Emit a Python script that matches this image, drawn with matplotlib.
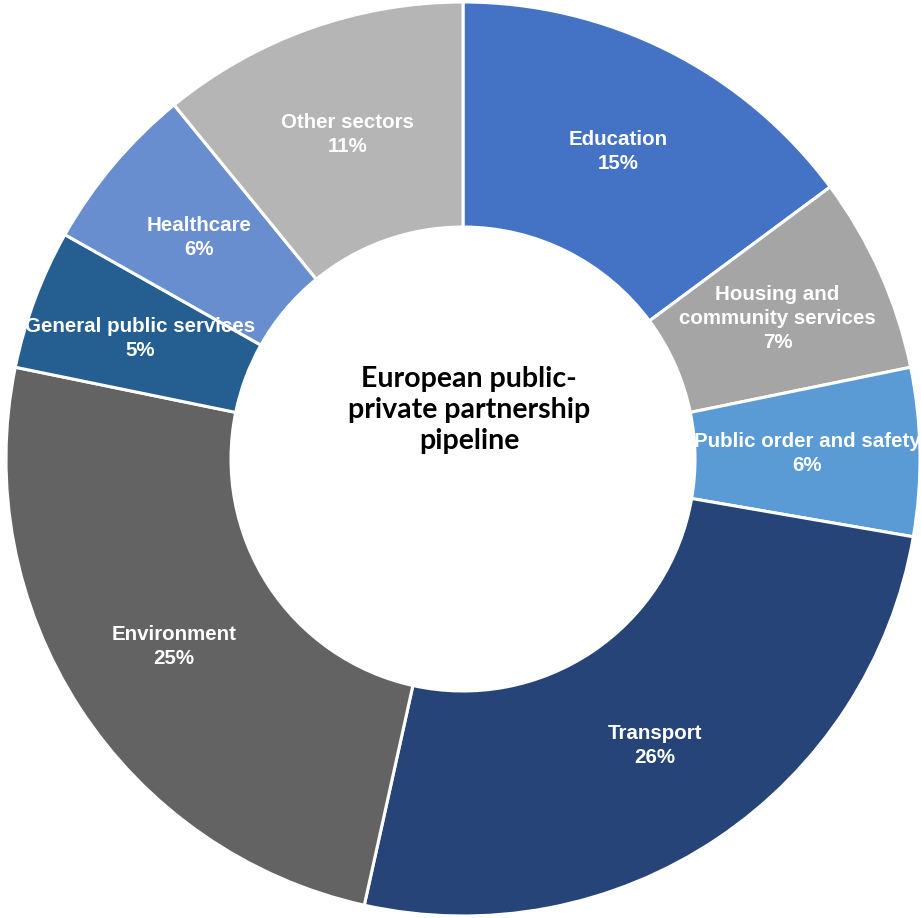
import matplotlib
matplotlib.use("Agg")
import matplotlib.pyplot as plt
import numpy as np

categories = ["Education", "Housing and\ncommunity services", "Public order and safety",
              "Transport", "Environment", "General public services", "Healthcare", "Other sectors"]
values = [15, 7, 6, 26, 25, 5, 6, 11]
colors = ["#4472C4", "#A5A5A5", "#5B9BD5", "#264478", "#636363", "#255E91", "#698ED0", "#B5B5B5"]
center_title = "European public-\nprivate partnership\npipeline"

W, H = 921, 918
fig = plt.figure(figsize=(W / 100, H / 100), dpi=100)
ax = fig.add_axes([0, 0, 1, 1])

cx, cy = 463, H - 459
r_out = 457
r_in = 232

wedges, _ = ax.pie(values, colors=colors, startangle=90, counterclock=False,
                   radius=r_out, center=(cx, cy),
                   wedgeprops=dict(width=r_out - r_in, edgecolor="white", linewidth=2.2),
                   frame=True)
ax.set_xlim(0, W)
ax.set_ylim(0, H)
ax.set_aspect("equal")
ax.axis("off")

r_lab = (r_out + r_in) / 2
for w, cat, v in zip(wedges, categories, values):
    ang = np.deg2rad((w.theta1 + w.theta2) / 2)
    x = cx + r_lab * np.cos(ang)
    y = cy + r_lab * np.sin(ang)
    ax.text(x, y, f"{cat}\n{v}%", ha="center", va="center", color="white",
            fontsize=14.8, fontweight="bold", family="Liberation Sans", linespacing=1.33)

ax.text(cx + 6, H - 410, center_title, ha="center", va="center", color="black",
        fontsize=20.5, fontweight="bold", family="Lato", linespacing=1.22)

fig.savefig("out.png", dpi=100)
